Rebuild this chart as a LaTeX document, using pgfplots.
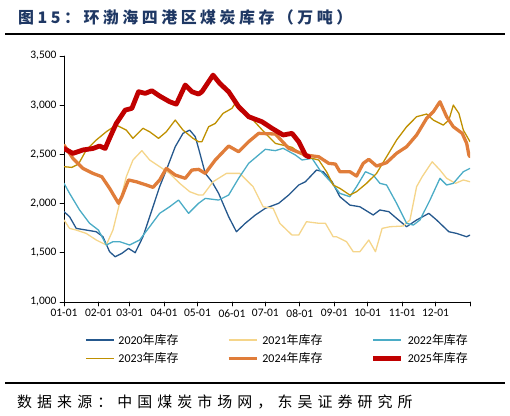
\documentclass[border=0pt]{standalone}
\usepackage{pgfplots}
\pgfplotsset{compat=1.18}
\usepackage{fontspec}
\setmainfont{Carlito}
\newfontfamily\cjk{Noto Sans CJK SC}
\newfontfamily\cjktitle[LetterSpace=22]{Noto Sans CJK SC}
\newfontfamily\cjksrc[LetterSpace=34]{Noto Sans CJK SC}
\definecolor{cA}{RGB}{37,88,141}
\definecolor{cB}{RGB}{245,213,138}
\definecolor{cC}{RGB}{75,172,198}
\definecolor{cD}{RGB}{191,144,0}
\definecolor{cE}{RGB}{224,125,58}
\definecolor{cF}{RGB}{192,0,0}
\definecolor{ctitle}{RGB}{31,56,100}
\begin{document}
\begin{tikzpicture}
\path[use as bounding box] (0,0) rectangle (510bp,416bp);
\node[anchor=west,inner sep=0pt,text=ctitle] at (18bp,399bp) {\cjktitle\bfseries\fontsize{16}{18}\selectfont 图15：环渤海四港区煤炭库存（万吨）};
\draw[line width=2bp] (5bp,382bp) -- (505bp,382bp);
\draw[line width=2bp] (5bp,33.3bp) -- (505bp,33.3bp);
\node[anchor=west,inner sep=0pt] at (17bp,14.5bp) {\cjksrc\fontsize{15}{17}\selectfont 数据来源：中国煤炭市场网，东吴证券研究所};
\begin{axis}[
  at={(64bp,114bp)}, anchor=south west,
  scale only axis, width=406bp, height=246bp,
  xmin=0, xmax=365, ymin=1000, ymax=3500,
  axis x line=bottom, axis y line=left,
  axis line style={-, line width=0.8bp},
  tick align=outside, major tick length=4bp,
  tick style={line width=0.8bp, black},
  xtick={0,31,59,90,120,151,181,212,243,273,304,334,365},
  xticklabels={01-01,02-01,03-01,04-01,05-01,06-01,07-01,08-01,09-01,10-01,11-01,12-01,},
  ytick={1000,1500,2000,2500,3000,3500},
  /pgf/number format/assume math mode=true,
  /pgf/number format/1000 sep={,},
  scaled y ticks=false,
  tick label style={font=\fontsize{11.5}{13}\selectfont},
  legend columns=3,
  legend style={draw=none, fill=none, inner sep=0pt,
    at={(0.0517,-0.128)}, anchor=north west,
    font=\fontsize{12}{14}\selectfont,
    /tikz/row sep=6bp,
    /tikz/column sep=3.5bp,
    /tikz/every even column/.append style={column sep=48bp},
    nodes={inner sep=0.5bp}},
  legend image code/.code={\draw[#1] (0bp,0bp) -- (28bp,0bp);},
  line join=round, line cap=round,
]
\addplot[cA, line width=1.3bp] coordinates {(0,1918)(5,1867)(11,1748)(20,1731)(29,1714)(35,1663)(41,1511)(46,1460)(52,1494)(58,1545)(64,1501)(71,1663)(80,1968)(86,2172)(92,2341)(100,2578)(107,2714)(113,2747)(118,2680)(121,2560)(127,2307)(133,2222)(139,2104)(148,1867)(155,1714)(163,1800)(172,1884)(181,1952)(193,2003)(202,2087)(211,2189)(217,2222)(227,2341)(233,2324)(241,2222)(248,2070)(257,1985)(266,1968)(278,1884)(284,1935)(292,1918)(299,1850)(308,1765)(317,1833)(328,1901)(335,1833)(346,1714)(353,1697)(362,1663)(365,1680)};
\addlegendentry{2020{\cjk 年库存}}
\addplot[cB, line width=1.3bp] coordinates {(0,1833)(5,1748)(11,1731)(20,1697)(29,1630)(38,1579)(44,1731)(50,2003)(56,2273)(62,2443)(70,2538)(77,2443)(86,2375)(95,2307)(104,2206)(113,2121)(121,2087)(125,2087)(134,2222)(146,2307)(158,2307)(170,2172)(179,1968)(188,1952)(194,1800)(205,1680)(211,1680)(218,1816)(229,1800)(235,1800)(242,1663)(245,1663)(254,1613)(260,1511)(266,1511)(274,1630)(280,1511)(286,1748)(293,1765)(305,1772)(311,1833)(317,2172)(322,2273)(331,2425)(338,2341)(344,2257)(352,2206)(359,2240)(365,2222)};
\addlegendentry{2021{\cjk 年库存}}
\addplot[cC, line width=1.3bp] coordinates {(0,2206)(5,2104)(14,1935)(23,1800)(31,1731)(38,1579)(44,1613)(50,1613)(59,1579)(68,1630)(77,1765)(86,1901)(95,1968)(103,2036)(112,1901)(121,2003)(127,2053)(139,2036)(148,2087)(157,2257)(166,2409)(181,2552)(190,2538)(197,2562)(208,2494)(214,2443)(223,2460)(230,2341)(241,2206)(248,2104)(257,2070)(263,2172)(271,2324)(278,2290)(284,2206)(290,2189)(299,2003)(308,1800)(314,1782)(320,1833)(329,2036)(338,2257)(344,2189)(350,2206)(359,2324)(365,2358)};
\addlegendentry{2022{\cjk 年库存}}
\addplot[cD, line width=1.3bp] coordinates {(0,2375)(7,2368)(13,2402)(20,2544)(29,2646)(38,2730)(47,2798)(56,2747)(62,2663)(71,2765)(77,2730)(85,2663)(92,2730)(100,2849)(107,2747)(116,2663)(121,2629)(124,2629)(130,2781)(136,2815)(143,2917)(151,2968)(154,3019)(160,2950)(170,2849)(181,2714)(190,2612)(205,2572)(217,2476)(229,2443)(236,2324)(242,2189)(248,2155)(257,2087)(263,2121)(272,2206)(281,2307)(290,2476)(299,2646)(308,2781)(317,2883)(326,2910)(332,2849)(341,2798)(346,2849)(350,3001)(355,2917)(359,2747)(365,2629)};
\addlegendentry{2023{\cjk 年库存}}
\addplot[cE, line width=3.3bp] coordinates {(0,2595)(8,2460)(17,2358)(26,2307)(34,2273)(41,2155)(49,2003)(52,2070)(58,2240)(65,2222)(74,2189)(80,2165)(86,2240)(92,2358)(100,2290)(109,2257)(115,2341)(121,2348)(127,2307)(136,2443)(148,2585)(157,2527)(166,2629)(175,2714)(190,2707)(202,2562)(217,2494)(229,2476)(238,2409)(244,2402)(248,2324)(257,2324)(263,2280)(269,2409)(274,2450)(281,2382)(290,2416)(299,2511)(308,2578)(317,2697)(326,2866)(332,2933)(338,3035)(344,2883)(350,2781)(358,2714)(362,2612)(364,2494)(365,2476)};
\addlegendentry{2024{\cjk 年库存}}
\addplot[cF, line width=4.8bp] coordinates {(0,2560)(8,2510)(17,2545)(26,2560)(32,2585)(37,2560)(41,2665)(47,2815)(55,2950)(61,2968)(67,3137)(73,3120)(79,3147)(86,3093)(95,3035)(101,3010)(109,3205)(115,3137)(121,3113)(124,3137)(134,3306)(140,3222)(148,3137)(157,2984)(166,2883)(178,2832)(187,2765)(197,2697)(205,2714)(211,2629)(217,2494)(220,2476)};
\addlegendentry{2025{\cjk 年库存}}
\end{axis}
\end{tikzpicture}
\end{document}
